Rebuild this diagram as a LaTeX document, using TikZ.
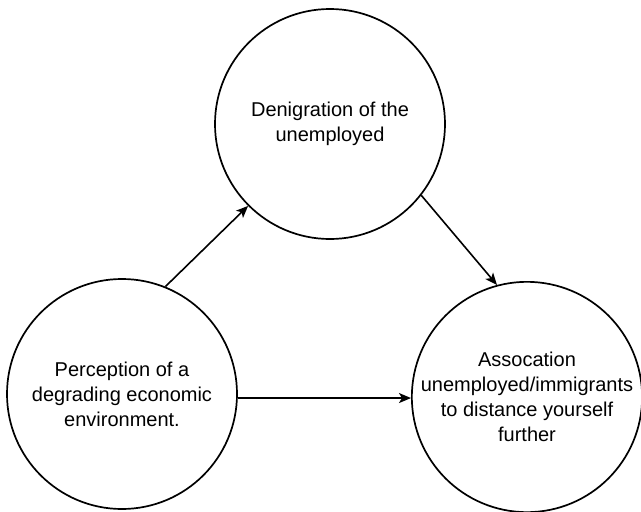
\documentclass[tikz,border=0pt]{standalone}
\usepackage{fontspec}
\setmainfont{Liberation Sans}
\usetikzlibrary{arrows.meta}
\begin{document}
\begin{tikzpicture}[x=1pt,y=1pt,
  bubble/.style={circle,draw,line width=1.7pt,minimum size=230pt,inner sep=0pt,align=center,
    font=\fontsize{20}{25}\selectfont},
  conn/.style={line width=1.6pt,-{Stealth[length=12pt,width=10pt,inset=3pt]}}]
\useasboundingbox (0,0) rectangle (641,-512);
\node[bubble] (top) at (330,-124) {Denigration of the\\unemployed};
\node[bubble] (left) at (122,-394) {Perception of a\\degrading economic\\environment.};
\node[bubble,minimum size=228pt] (right) at (527,-397) {Assocation\\unemployed/immigrants\\to distance yourself\\further};
\draw[conn] (left.68) -- (top.225);
\draw[conn] (top.-38) -- (right.105);
\draw[conn] (left.-2) -- (left.-2 -| right.west);
\end{tikzpicture}
\end{document}
